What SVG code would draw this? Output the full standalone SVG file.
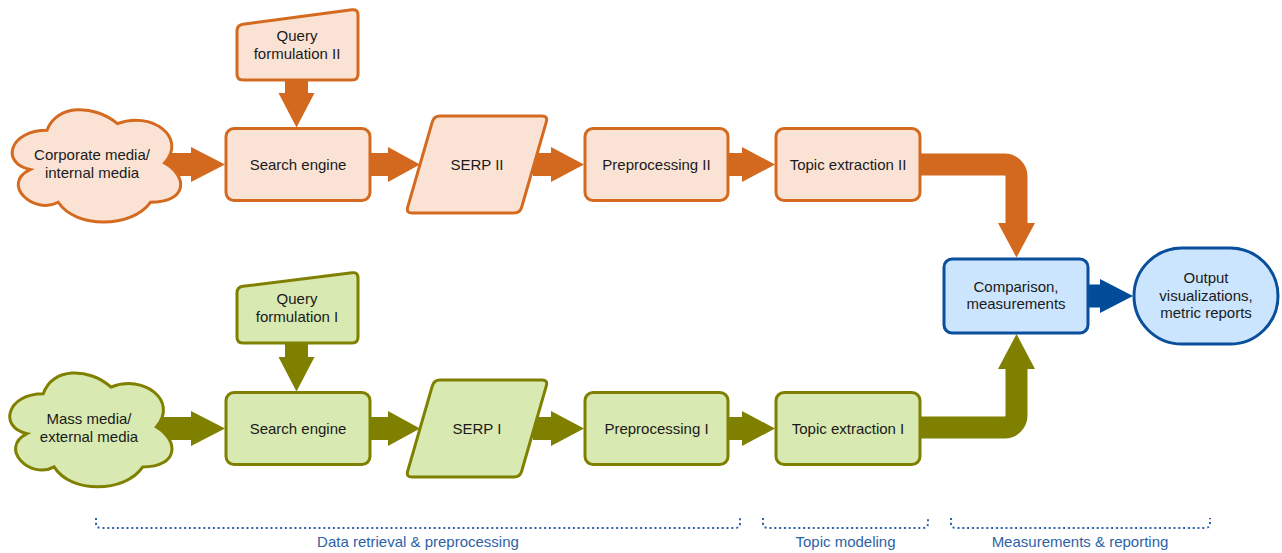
<svg xmlns="http://www.w3.org/2000/svg" width="1282" height="553" viewBox="0 0 1282 553">
<style>
.o{fill:#fae3d4;stroke:#d46a1f;stroke-width:3}
.g{fill:#d8e9b1;stroke:#808000;stroke-width:3}
.b{fill:#cce5ff;stroke:#0a4f9c;stroke-width:3}
.t{font-family:"Liberation Sans",Arial,sans-serif;font-size:15px;fill:#1a1a1a;text-anchor:middle}
.ao{fill:#d2691e}
.ag{fill:#808000}
.ab{fill:#004c99}
.so{fill:none;stroke:#d2691e;stroke-width:22}
.sg{fill:none;stroke:#808000;stroke-width:22}
.br{fill:none;stroke:#2e62a6;stroke-width:2;stroke-dasharray:2 2.8}
.lab{font-family:"Liberation Sans",Arial,sans-serif;font-size:15px;fill:#2e62a6;text-anchor:middle}
</style>
<rect width="1282" height="553" fill="#ffffff"/>
<g id="connectors">
  <polygon class="ao" points="160,153 191,153 191,147 225,164.5 191,182 191,176 160,176"/>
  <polygon class="ao" points="370,153 388,153 388,147 420,164.5 388,182 388,176 370,176"/>
  <polygon class="ao" points="533,153 551,153 551,147 584,164.5 551,182 551,176 533,176"/>
  <polygon class="ao" points="728,153 742,153 742,147 775,164.5 742,182 742,176 728,176"/>
  <polygon class="ao" points="285,79 308,79 308,93 314.5,93 296.5,127.5 278.5,93 285,93"/>
  <path class="so" d="M 918 164.5 H 1004.5 A 12 12 0 0 1 1016.5 176.5 V 224"/>
  <polygon class="ao" points="998,223 1035,223 1016.5,257.5"/>
  <polygon class="ag" points="152,417 191,417 191,411 225,428.5 191,446 191,440 152,440"/>
  <polygon class="ag" points="370,417 388,417 388,411 420,428.5 388,446 388,440 370,440"/>
  <polygon class="ag" points="533,417 551,417 551,411 584,428.5 551,446 551,440 533,440"/>
  <polygon class="ag" points="728,417 742,417 742,411 775,428.5 742,446 742,440 728,440"/>
  <polygon class="ag" points="285,342 308,342 308,357 314.5,357 296.5,391.5 278.5,357 285,357"/>
  <path class="sg" d="M 918 427.5 H 1004.5 A 12 12 0 0 0 1016.5 415.5 V 368"/>
  <polygon class="ag" points="998,369 1035,369 1016.5,334"/>
  <polygon class="ab" points="1088,284.5 1100,284.5 1100,279 1133,296 1100,313 1100,307.5 1088,307.5"/>
</g>
<g id="cloud-corporate">
  <path class="o" d="M 47 130.25 C 9.4 130.25 0 163 30.08 169.55 C 0 183.96 33.84 215.4 58.28 202.3 C 75.2 228.5 131.6 228.5 150.4 202.3 C 188 202.3 188 176.1 164.5 163 C 188 136.8 150.4 110.6 117.5 123.7 C 94 104.05 56.4 104.05 47 130.25 Z"/>
  <text class="t" x="92" y="160">Corporate media/</text>
  <text class="t" x="92" y="178">internal media</text>
</g>
<g id="query2">
  <path class="o" d="M 237 31 Q 237 25 243 24.2 L 352 9.8 Q 358 9 358 15 L 358 74 Q 358 80 352 80 L 243 80 Q 237 80 237 74 Z"/>
  <text class="t" x="297" y="40.5">Query</text>
  <text class="t" x="297" y="58.5">formulation II</text>
</g>
<g id="search2">
  <rect class="o" x="226" y="128.5" width="144" height="72" rx="8"/>
  <text class="t" x="298" y="169.5">Search engine</text>
</g>
<g id="serp2">
  <path class="o" d="M 440 116 L 542 116 Q 548 116 546.3 121.8 L 521.7 207.2 Q 520 213 514 213 L 412 213 Q 406 213 407.7 207.2 L 432.3 121.8 Q 434 116 440 116 Z"/>
  <text class="t" x="477" y="169.5">SERP II</text>
</g>
<g id="pre2">
  <rect class="o" x="585" y="128.5" width="143" height="72" rx="8"/>
  <text class="t" x="656.5" y="169.5">Preprocessing II</text>
</g>
<g id="topic2">
  <rect class="o" x="776" y="128.5" width="144" height="72" rx="8"/>
  <text class="t" x="848" y="169.5">Topic extraction II</text>
</g>
<g id="cloud-mass">
  <path class="g" d="M 43.25 393.75 C 7.05 393.75 -2 427 26.96 433.65 C -2 448.28 30.58 480.2 54.11 466.9 C 70.4 493.5 124.7 493.5 142.8 466.9 C 179 466.9 179 440.3 156.4 427 C 179 400.4 142.8 373.8 111.1 387.1 C 88.5 367.15 52.3 367.15 43.25 393.75 Z"/>
  <text class="t" x="89" y="424">Mass media/</text>
  <text class="t" x="89" y="442">external media</text>
</g>
<g id="query1">
  <path class="g" d="M 237 293 Q 237 287 243 286.3 L 352 272.7 Q 358 272 358 278 L 358 337 Q 358 343 352 343 L 243 343 Q 237 343 237 337 Z"/>
  <text class="t" x="297" y="304">Query</text>
  <text class="t" x="297" y="322">formulation I</text>
</g>
<g id="search1">
  <rect class="g" x="226" y="392.5" width="144" height="72" rx="8"/>
  <text class="t" x="298" y="433.5">Search engine</text>
</g>
<g id="serp1">
  <path class="g" d="M 440 380 L 542 380 Q 548 380 546.3 385.8 L 521.7 471.2 Q 520 477 514 477 L 412 477 Q 406 477 407.7 471.2 L 432.3 385.8 Q 434 380 440 380 Z"/>
  <text class="t" x="477" y="433.5">SERP I</text>
</g>
<g id="pre1">
  <rect class="g" x="585" y="392.5" width="143" height="72" rx="8"/>
  <text class="t" x="656.5" y="433.5">Preprocessing I</text>
</g>
<g id="topic1">
  <rect class="g" x="776" y="392.5" width="144" height="72" rx="8"/>
  <text class="t" x="848" y="433.5">Topic extraction I</text>
</g>
<g id="comparison">
  <rect class="b" x="944" y="259" width="144" height="74" rx="8"/>
  <text class="t" x="1016" y="292">Comparison,</text>
  <text class="t" x="1016" y="309">measurements</text>
</g>
<g id="output">
  <rect class="b" x="1134" y="248" width="144" height="96" rx="48" ry="48"/>
  <text class="t" x="1206" y="283">Output</text>
  <text class="t" x="1206" y="301">visualizations,</text>
  <text class="t" x="1206" y="318">metric reports</text>
</g>
<g id="phases">
  <path class="br" d="M 96 518 V 523 Q 96 528 101 528 H 735 Q 740 528 740 523 V 518"/>
  <path class="br" d="M 763 518 V 523 Q 763 528 768 528 H 923 Q 928 528 928 523 V 518"/>
  <path class="br" d="M 951 518 V 523 Q 951 528 956 528 H 1205 Q 1210 528 1210 523 V 518"/>
  <text class="lab" x="418" y="547">Data retrieval &amp; preprocessing</text>
  <text class="lab" x="845.5" y="547">Topic modeling</text>
  <text class="lab" x="1080" y="547">Measurements &amp; reporting</text>
</g>
</svg>
